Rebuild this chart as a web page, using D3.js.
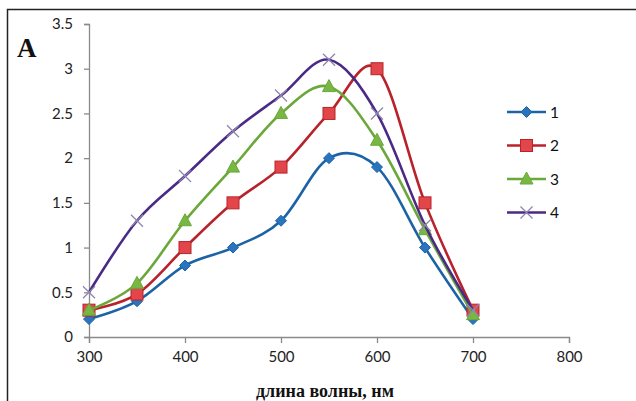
<!DOCTYPE html>
<html>
<head>
<meta charset="utf-8">
<script src="https://cdnjs.cloudflare.com/ajax/libs/d3/7.8.5/d3.min.js"></script>
<style>
  body { margin: 0; background: #fff; }
  svg text { font-family: Lato, "Open Sans", sans-serif; }
</style>
</head>
<body>
<svg width="636" height="401"></svg>
<script>
// wavelengths, nm
var wavelengths = [300, 350, 400, 450, 500, 550, 600, 650, 700];
var series1 = [0.2, 0.4, 0.8, 1.0, 1.3, 2.0, 1.9, 1.0, 0.2];
var series2 = [0.3, 0.48, 1.0, 1.5, 1.9, 2.5, 3.0, 1.5, 0.3];
var series3 = [0.3, 0.6, 1.3, 1.9, 2.5, 2.8, 2.2, 1.2, 0.25];
var series4 = [0.5, 1.3, 1.8, 2.3, 2.7, 3.1, 2.5, 1.25, 0.3];
var seriesNames = ["1", "2", "3", "4"];
var xTicks = [300, 400, 500, 600, 700, 800];
var yTicks = [0, 0.5, 1, 1.5, 2, 2.5, 3, 3.5];

var svg = d3.select("svg");

// outer frame
svg.append("rect")
    .attr("x", 7.5).attr("y", 9.5)
    .attr("width", 700).attr("height", 500)
    .attr("fill", "none").attr("stroke", "#222").attr("stroke-width", 1.5);

var x = d3.scaleLinear().domain([300, 800]).range([89, 569]);
var y = d3.scaleLinear().domain([0, 3.5]).range([337, 24]);

var xAxis = svg.append("g")
    .attr("transform", "translate(0," + y(0) + ")")
    .call(d3.axisBottom(x).tickValues(xTicks).tickSize(6).tickPadding(8).tickFormat(d3.format("d")));
var yAxis = svg.append("g")
    .attr("transform", "translate(" + x(300) + ",0)")
    .call(d3.axisLeft(y).tickValues(yTicks).tickSize(5).tickPadding(11).tickFormat(function(d) { return d; }));

[xAxis, yAxis].forEach(function(a) {
  a.select(".domain").attr("stroke", "#8a8a8a").attr("stroke-width", 1.3);
  a.selectAll(".tick line").attr("stroke", "#8a8a8a").attr("stroke-width", 1.3);
  a.selectAll(".tick text").attr("fill", "#222").style("font-size", "15px");
});

var colors = ["#1c63a6", "#b8232b", "#6aa83a", "#4a2a86"];
var fills = ["#2a74be", "#e2464a", "#78b744", "#4a2a86"];
var shapes = ["diamond", "square", "triangle", "cross"];
var allSeries = [series1, series2, series3, series4];

var line = d3.line()
    .x(function(d) { return x(d[0]); })
    .y(function(d) { return y(d[1]); })
    .curve(d3.curveCatmullRom.alpha(0));

function drawMarker(g, shape, i) {
  if (shape === "diamond") {
    g.append("path").attr("d", "M0,-5.5L5.5,0L0,5.5L-5.5,0Z")
      .attr("fill", fills[i]).attr("stroke", colors[i]).attr("stroke-width", 1);
  } else if (shape === "square") {
    g.append("rect").attr("x", -6).attr("y", -6).attr("width", 12).attr("height", 12)
      .attr("fill", fills[i]).attr("stroke", colors[i]).attr("stroke-width", 1);
  } else if (shape === "triangle") {
    g.append("path").attr("d", "M0,-7L6.5,5L-6.5,5Z")
      .attr("fill", fills[i]).attr("stroke", colors[i]).attr("stroke-width", 1);
  } else {
    g.append("path").attr("d", "M-6,-6L6,6M-6,6L6,-6")
      .attr("stroke", "#8f86b0").attr("stroke-width", 1.3);
  }
}

allSeries.forEach(function(vals, i) {
  var pts = wavelengths.map(function(w, j) { return [w, vals[j]]; });
  var g = svg.append("g");
  g.append("path")
      .datum(pts)
      .attr("d", line)
      .attr("fill", "none")
      .attr("stroke", colors[i])
      .attr("stroke-width", 2.6);
  g.selectAll(".m")
    .data(pts)
    .enter().append("g")
      .attr("class", "m")
      .attr("transform", function(d) { return "translate(" + x(d[0]) + "," + y(d[1]) + ")"; })
      .each(function() { drawMarker(d3.select(this), shapes[i], i); });
});

// legend
var legend = svg.append("g");
seriesNames.forEach(function(name, i) {
  var ly = 112 + i * 33.5;
  var lg = legend.append("g").attr("transform", "translate(0," + ly + ")");
  lg.append("line").attr("x1", 507).attr("x2", 546).attr("y1", 0).attr("y2", 0)
    .attr("stroke", colors[i]).attr("stroke-width", 2.6);
  drawMarker(lg.append("g").attr("transform", "translate(526.5,0)"), shapes[i], i);
  lg.append("text").attr("x", 550).attr("y", 5.5)
    .style("font-size", "15.5px").attr("fill", "#111").text(name);
});

svg.append("text")
    .attr("x", 17).attr("y", 57)
    .style("font-family", "'Liberation Serif', serif")
    .style("font-weight", "bold").style("font-size", "27px")
    .attr("fill", "#111")
    .text("A");

svg.append("text")
    .attr("x", 325).attr("y", 397)
    .attr("text-anchor", "middle")
    .style("font-family", "'Liberation Serif', serif")
    .style("font-weight", "bold").style("font-size", "18px")
    .attr("fill", "#111")
    .text("длина волны, нм");
</script>
</body>
</html>
